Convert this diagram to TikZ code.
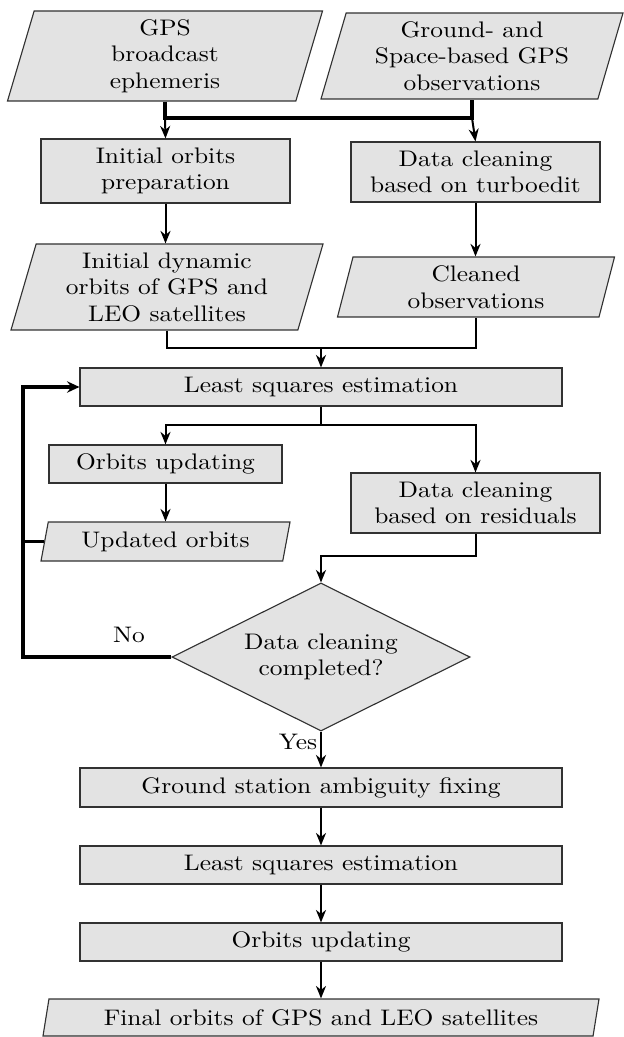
\documentclass[tikz,border=0pt]{standalone}
\usepackage{fontspec}
\setmainfont{lmroman10-regular.otf}[FakeStretch=1.13]
\usetikzlibrary{shapes.geometric,arrows.meta}
\definecolor{boxfill}{RGB}{227,227,227}
\definecolor{boxline}{RGB}{50,50,50}
\begin{document}
\begin{tikzpicture}[x=0.4pt,y=-0.4pt, font=\fontsize{9}{10.6}\selectfont,
  base/.style={draw=boxline, line width=0.45pt, fill=boxfill, inner sep=0pt, align=center},
  proc/.style={base, rectangle},
  io/.style={base, trapezium, trapezium left angle=70, trapezium right angle=110, trapezium stretches body},
  dec/.style={base, diamond, aspect=2},
  arr/.style={line width=0.8pt, -{Stealth[length=5pt,width=4pt,inset=1.6pt]}},
  bus/.style={line width=1.6pt},
  mrg/.style={line width=1.1pt},
  fbk/.style={line width=1.4pt, line join=miter},
  lbl/.style={inner sep=0pt}]
\useasboundingbox (0,0) rectangle (624,1037);

% nodes
\node[io, minimum width={315*0.4pt}, minimum height={90*0.4pt}] (P1) at (165,56) {GPS\\broadcast\\ephemeris};
\node[io, minimum width={302*0.4pt}, minimum height={86*0.4pt}] (P2) at (472,56) {Ground- and\\Space-based GPS\\observations};
\node[proc, minimum width={249*0.4pt}, minimum height={64*0.4pt}] (IOP) at (165.5,171) {Initial orbits\\preparation};
\node[proc, minimum width={249*0.4pt}, minimum height={60*0.4pt}] (DCT) at (475.5,172) {Data cleaning\\based on turboedit};
\node[io, minimum width={312*0.4pt}, minimum height={86*0.4pt}] (P3) at (167,287) {Initial dynamic\\orbits of GPS and\\LEO satellites};
\node[io, minimum width={277*0.4pt}, minimum height={60*0.4pt}] (P4) at (476,287) {Cleaned\\observations};
\node[proc, minimum width={482*0.4pt}, minimum height={38*0.4pt}] (LS1) at (321,387) {Least squares estimation};
\node[proc, minimum width={233*0.4pt}, minimum height={38*0.4pt}] (OU1) at (165.5,464) {Orbits updating};
\node[io, minimum width={249*0.4pt}, minimum height={39*0.4pt}] (UO) at (165.5,541.5) {Updated orbits};
\node[proc, minimum width={249*0.4pt}, minimum height={60*0.4pt}] (DCR) at (475.5,503) {Data cleaning\\based on residuals};
\node[dec, minimum width={298*0.4pt}, minimum height={148*0.4pt}] (D) at (321,657) {Data cleaning\\completed?};
\node[proc, minimum width={482*0.4pt}, minimum height={39*0.4pt}] (GSAF) at (321,787.5) {Ground station ambiguity fixing};
\node[proc, minimum width={482*0.4pt}, minimum height={38*0.4pt}] (LS2) at (321,865) {Least squares estimation};
\node[proc, minimum width={482*0.4pt}, minimum height={38*0.4pt}] (OU2) at (321,942) {Orbits updating};
\node[io, minimum width={556*0.4pt}, minimum height={37*0.4pt}] (FP) at (321,1017.5) {Final orbits of GPS and LEO satellites};
\node[lbl] (no) at (129,635) {No};
\node[lbl] (yes) at (298,742) {Yes};

% input bus
\coordinate (busL) at (P1.center |- 0,118);
\coordinate (busR) at (P2.center |- 0,118);
\draw[bus] (P1.center |- P1.south) -- (busL) -- (busR) -- (P2.center |- P2.south);
\draw[arr] (busL) -- (IOP.north);
\draw[arr] (busR) -- (DCT.north);

\draw[arr] (IOP.south) -- (IOP.south |- P3.north);
\draw[arr] (DCT.south) -- (DCT.south |- P4.north);

% merge into least squares
\coordinate (m) at (LS1.north |- 0,348);
\draw[mrg] (P3.center |- P3.south) |- (m) -| (P4.center |- P4.south);
\draw[arr] (m) -- (LS1.north);

% split
\coordinate (s) at (LS1.south |- 0,425);
\draw[mrg] (LS1.south) -- (s);
\draw[arr] (s) -| (OU1.north);
\draw[arr] (s) -| (DCR.north);
\draw[arr] (OU1.south) -- (OU1.south |- UO.north);

\coordinate (r) at (DCR.south |- 0,556);
\draw[arr] (DCR.south) -- (r) -| (D.north);

% feedback loop
\coordinate (fbx) at (23,0);
\draw[fbk, -{Stealth[length=5pt,width=4.6pt,inset=1.8pt]}] (D.west) -- (fbx |- D.west) |- (LS1.west);
\draw[fbk] (UO.west) -- (fbx |- UO.west);

% main chain
\draw[arr] (D.south) -- (GSAF.north);
\draw[arr] (GSAF.south) -- (LS2.north);
\draw[arr] (LS2.south) -- (OU2.north);
\draw[arr] (OU2.south) -- (OU2.south |- FP.north);
\end{tikzpicture}
\end{document}
